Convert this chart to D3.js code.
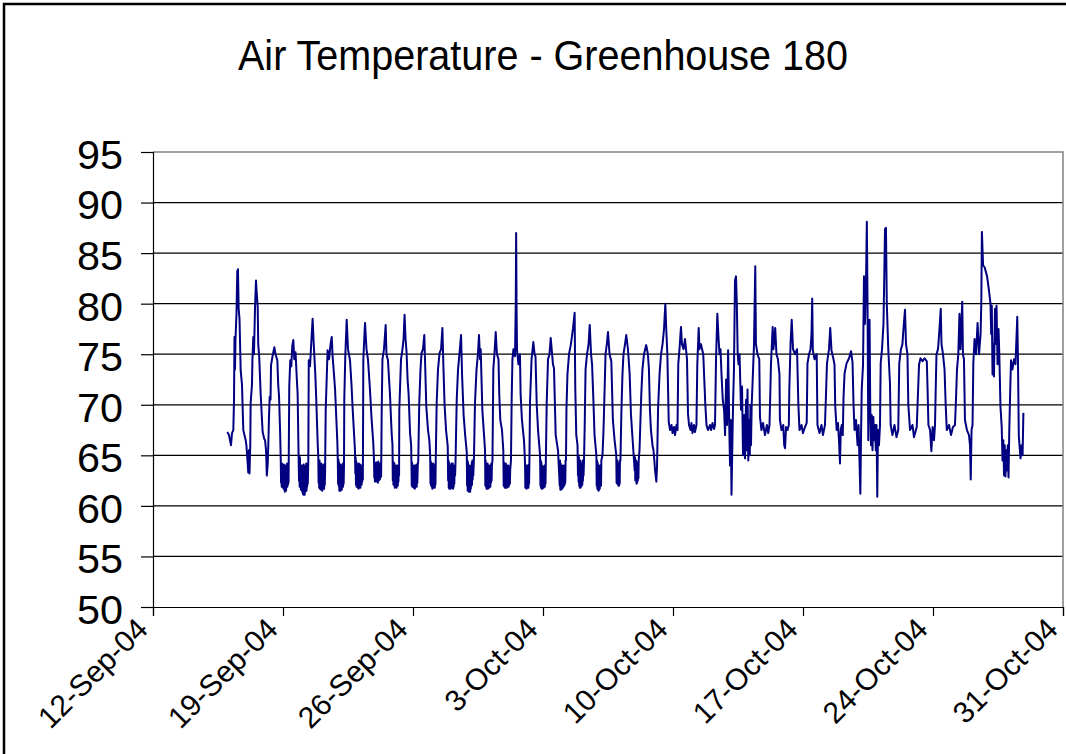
<!DOCTYPE html>
<html>
<head>
<meta charset="utf-8">
<script src="https://cdn.jsdelivr.net/npm/d3@7"></script>
<style>
  body { margin: 0; background: #fff; }
  text { font-family: "Liberation Sans", Arial, sans-serif; fill: #000; }
</style>
</head>
<body>
<script>
const title = "Air Temperature - Greenhouse 180";
const yTicks = [50, 55, 60, 65, 70, 75, 80, 85, 90, 95];
const xTicks = ["2004-09-12", "2004-09-19", "2004-09-26", "2004-10-03",
                "2004-10-10", "2004-10-17", "2004-10-24", "2004-10-31"];

// readings per day: [hour of day, deg F]
const sepDays = [
  ["2004-09-16", [[0,67.3],[2.2,67],[3.5,66.5],[4.8,66],[6.1,67.2],[7.8,67.5],[8.7,70.5],[9.3,76.7],[10,73.5],[10.6,76.5],[11.9,79],[12.9,83.2],[13.8,83.4],[14.7,79.5],[15.8,78.5],[17.3,73.4],[19,72],[20.7,67.5],[22.2,67],[23.8,66.5]]],
  ["2004-09-17", [[0.8,65.9],[2.1,64.5],[3.1,63.3],[4,65.5],[4.7,63.2],[5.7,66],[6.2,70.2],[7.9,72],[8.5,74.5],[9.6,76.7],[10.5,75],[11.8,79.5],[13.1,82.3],[13.7,81.5],[15.3,79.7],[16,76],[17.3,74.7],[19.1,71.1],[21.7,67.3],[23.9,66.6]]],
  ["2004-09-18", [[0.8,66.5],[2.1,65.5],[3.1,63],[4.3,64.2],[5,66],[5.9,68.8],[6.8,70.8],[7.9,70.5],[8.5,73.9],[10.5,74.8],[12.8,75.7],[14.3,75],[16.7,74.4],[17.8,72],[18.9,70.8],[20.2,67.5],[21.1,64.5],[21.5,62.3],[21.9,63.8],[22.3,61.9],[22.7,64.2],[23.1,62.1],[23.5,63.6]]],
  ["2004-09-19", [[0,61.8],[0.4,63.9],[0.8,61.7],[1.2,64.1],[1.6,61.6],[2,63.5],[2.4,61.4],[2.8,63.9],[3.2,61.8],[3.6,64],[4,61.5],[4.4,63.6],[4.8,62],[5.2,64.2],[5.6,61.9],[6,63.7],[6.4,62.1],[6.8,64],[7.2,62.3],[8.1,71.8],[9.4,74.4],[10.7,73.8],[12,75.8],[13.3,76.4],[14.6,74.5],[16.2,75.2],[17.7,72.8],[18.9,71.1],[20.3,64.2],[20.7,62.5],[21.1,64.5],[21.5,61.9],[21.9,64.8],[22.3,62],[22.7,63.9],[23.1,61.6],[23.5,64]]],
  ["2004-09-20", [[0,61.8],[0.4,63.5],[0.8,61.4],[1.2,64],[1.6,61.2],[2,63.6],[2.4,61.1],[2.8,64.1],[3.2,61.3],[3.6,63.2],[4,61.1],[4.4,63.9],[4.8,61.4],[5.2,63.5],[5.6,61.8],[6,64.2],[6.4,61.5],[6.8,63.6],[7.2,61.9],[7.6,64],[8,62.2],[8.4,63.5],[8.7,64.5],[9.3,74.4],[10.9,73.8],[12.8,76.5],[14.3,78.5],[15.4,76.5],[17.7,73.1],[19,70.5],[20.8,66.2],[21.6,64.9],[22,62.3],[22.4,64.2],[22.8,61.8],[23.2,64.5],[23.6,61.7]]],
  ["2004-09-21", [[0,63.9],[0.4,61.9],[0.8,63.8],[1.2,61.6],[1.6,64.2],[2,61.8],[2.4,63.6],[2.8,61.5],[3.2,64],[3.6,62],[4,63.5],[4.4,61.7],[4.8,64.1],[5.2,61.7],[5.6,63.8],[6,62.1],[6.4,63.5],[7.2,69.5],[9.6,75.4],[11.5,74.5],[13.5,76],[15,76.7],[16.1,74.8],[17.4,73.5],[19.3,71.5],[22.3,66.2],[22.8,64.5],[23.2,62.2],[23.6,64.6]]],
  ["2004-09-22", [[0,62],[0.4,64.3],[0.8,61.5],[1.2,63.9],[1.6,61.6],[2,64.1],[2.4,61.5],[2.8,63.8],[3.2,61.8],[3.6,64],[4,61.6],[4.4,63.7],[4.8,62],[5.2,64.2],[5.6,61.9],[6,63.5],[6.4,62.2],[6.8,63.8],[7.2,70.5],[8.5,74.8],[10.3,78.4],[12,75.5],[14.6,74.4],[16.5,72],[18.1,69.5],[21,65.5],[21.5,63.2],[21.9,64.8],[22.3,62.1],[22.7,64.4],[23.1,61.9],[23.5,64.2]]],
  ["2004-09-23", [[0,62.2],[0.4,64],[0.8,61.8],[1.2,63.8],[1.6,61.7],[2,64.2],[2.4,61.9],[2.8,63.6],[3.2,62],[3.6,64.1],[4,61.8],[4.4,63.9],[4.8,62.3],[5.2,64],[5.6,62.1],[6,63.7],[6.4,62.4],[6.8,63.8],[7.2,62.6],[7.8,74.5],[10,78.1],[11.9,75.5],[13.8,74.5],[16.4,71.5],[18.3,68.8],[20.7,66.2],[21.6,64.5],[22,62.8],[22.4,64.3],[22.8,62.4],[23.2,64.1],[23.6,62.6]]],
  ["2004-09-24", [[0,64.2],[0.4,62.5],[0.8,64.3],[1.2,62.4],[1.6,64],[2,62.6],[2.4,64.2],[2.8,62.3],[3.2,64.4],[3.6,62.5],[4,64.1],[4.4,62.7],[4.8,63.9],[5.2,62.6],[5.6,64.2],[6,62.8],[6.4,64],[6.8,62.9],[7.5,69],[8.5,74.5],[10.5,75.5],[12.7,77.9],[13.7,75],[15.6,74.4],[18.2,71.1],[20.4,67.2],[21.5,66],[21.9,62.5],[22.3,64.4],[22.7,62.1],[23.1,64.3],[23.5,62.2]]],
  ["2004-09-25", [[0,64.2],[0.4,61.8],[0.8,63.9],[1.2,61.9],[1.6,63.5],[2,62.2],[2.4,64],[2.8,61.8],[3.2,63.7],[3.6,62.2],[4,64],[4.4,62],[4.8,63.6],[5.2,62.4],[5.6,63.8],[6,63],[6.3,69.5],[8.5,74.5],[10.4,75.5],[11.8,76.5],[13.1,78.9],[14.4,76.5],[15.7,75.2],[17,72.5],[18.3,71.1],[20.2,67.2],[21.6,66],[22,64.2],[22.4,62],[22.8,64.3],[23.2,61.9],[23.6,63.9]]],
  ["2004-09-26", [[0,61.9],[0.4,64],[0.8,61.8],[1.2,63.5],[1.6,62],[2,64],[2.4,61.7],[2.8,63.8],[3.2,61.9],[3.6,63.6],[4,62.1],[4.4,64.1],[4.8,61.9],[5.2,63.5],[5.6,62.3],[6.2,64],[6.8,64.5],[8.1,70.2],[9.7,73.5],[11,75.1],[12.9,75.5],[14.6,76.9],[15.5,74.5],[17.2,69.8],[19.4,67.5],[21.1,66.5],[22.2,65],[22.6,62.2],[23,64.4],[23.4,62],[23.8,64.2]]],
  ["2004-09-27", [[0.2,61.9],[0.6,64],[1,61.7],[1.4,63.8],[1.8,62],[2.2,64.2],[2.6,61.8],[3,63.8],[3.4,61.9],[3.8,64],[4.2,61.8],[4.6,63.7],[5,62.1],[5.4,64.5],[6.6,70.2],[8.3,73.5],[10.3,75.1],[12.3,75.5],[14,77.6],[15.3,73.8],[16.8,70],[18.7,67.5],[20.9,65.9],[21.4,62.5],[21.8,64.5],[22.2,61.8],[22.6,64.3],[23,61.7],[23.4,64],[23.8,61.9]]],
  ["2004-09-28", [[0.2,64],[0.6,61.7],[1,63.8],[1.4,61.8],[1.8,64.2],[2.2,62],[2.6,63.9],[3,61.8],[3.4,64.2],[3.8,61.7],[4.2,63.6],[4.6,61.9],[5,63.5],[5.4,62.2],[5.8,64],[6.4,63],[7,64.5],[8.5,70.5],[10.2,73.5],[12.1,75.1],[14.1,76.9],[15.4,73],[17.4,69],[19.4,67],[21.5,65.3],[21.9,62],[22.3,64.5],[22.7,61.5],[23.1,64.3],[23.5,61.6],[23.9,63.9]]],
  ["2004-09-29", [[0.3,61.4],[0.7,64],[1.1,61.5],[1.5,63.8],[1.9,61.4],[2.3,63.9],[2.7,61.7],[3.1,64],[3.5,62],[3.9,64.3],[4.3,62.1],[4.7,64.5],[5.1,62.6],[5.5,64.2],[5.9,63],[6.8,64.8],[8.1,70.2],[10.1,73.5],[12,75.1],[13.3,76.9],[14.6,74.5],[15.5,75.5],[17.6,69.5],[19.8,67],[21.1,65.5],[21.5,62],[21.9,64.5],[22.3,61.9],[22.7,64.2],[23.1,61.7],[23.5,64]]],
  ["2004-09-30", [[0,61.8],[0.4,64.2],[0.8,61.7],[1.2,63.8],[1.6,61.9],[2,64],[2.4,61.8],[2.8,63.8],[3.2,62],[3.6,64],[4,61.9],[4.4,63.9],[4.8,62.3],[5.2,64.2],[5.6,62.5],[6,64],[6.7,64.5],[7.8,73.5],[9.3,75.1],[10.9,77.2],[12.5,75],[14.5,74.5],[15.5,71],[16.8,68.5],[19,67.5],[20.7,65.5],[21.2,62],[21.6,64.3],[22,61.9],[22.4,64],[22.8,61.8],[23.2,64.1],[23.6,61.8]]]
];

const octDays = [
  ["2004-10-01", [[0,64.2],[0.4,61.9],[0.8,63.8],[1.2,61.8],[1.6,64],[2,62],[2.4,63.8],[2.8,61.9],[3.2,64],[3.6,61.9],[4,63.6],[4.4,62.1],[4.8,63.8],[5.2,62.2],[5.6,63.5],[6.6,64.5],[7.5,70.5],[8.5,74.5],[9.8,75.5],[11.8,74.8],[12.8,80],[13.3,87],[13.8,80],[14.4,75.4],[16.3,74],[18.2,75],[19.1,71],[20.8,68.5],[23.4,66.5]]],
  ["2004-10-02", [[0.4,65],[0.8,64],[1.2,61.8],[1.6,63.8],[2,61.9],[2.4,64],[2.8,61.7],[3.2,63.8],[3.6,62],[4,64],[4.4,61.8],[4.8,63.9],[5.2,61.8],[5.6,64.1],[6,62.2],[6.4,64],[7.2,70.2],[9.2,74.5],[11.5,76.2],[13.1,75],[14.3,74.8],[15.9,70],[17.6,67.5],[20.2,65],[20.7,62],[21.1,64.5],[21.5,61.8],[21.9,64.3],[22.3,61.7],[22.7,64],[23.1,61.7],[23.5,63.9]]],
  ["2004-10-03", [[0,61.8],[0.4,63.8],[0.8,61.8],[1.2,63.8],[1.6,62.2],[2,64],[2.4,61.9],[2.8,63.6],[3.2,62.2],[3.6,64],[4.8,70.2],[6.5,74.5],[8.4,75],[10,76.6],[11.2,75.5],[12.9,74],[14.2,73.6],[16.4,67],[19.4,65.5],[21.6,62],[22,64.5],[22.4,61.6],[22.8,64.2],[23.2,61.6],[23.6,63.9]]],
  ["2004-10-04", [[0,61.7],[0.4,64],[0.8,61.7],[1.2,63.8],[1.6,61.8],[2,63.5],[2.4,61.9],[2.8,64],[3.2,62],[3.6,63.5],[4,62.1],[4.4,64],[4.8,62.3],[5.2,64.5],[5.7,64.5],[6.3,69.5],[7.6,73],[9.6,75],[12.1,76],[14.7,77.5],[16.9,79.1],[17.7,71.7],[19,67],[20.6,66],[21.2,63],[21.6,65],[22,62.4],[22.4,64.8],[22.8,62],[23.2,64.5],[23.6,61.8]]],
  ["2004-10-05", [[0,64.5],[0.4,61.8],[0.8,64],[1.2,61.9],[1.6,64.2],[2,62],[2.4,63.8],[2.8,62.1],[3.2,64.5],[3.6,62.5],[4,64],[4.4,63],[5,64.5],[5.9,68],[7,73.5],[8.9,75],[10.9,76],[12.4,77.9],[14.1,75],[15.4,74],[17.1,70.5],[18.6,67],[21,65],[21.4,62],[21.8,64.5],[22.2,61.7],[22.6,64.3],[23,61.6],[23.4,64],[23.8,61.5]]],
  ["2004-10-06", [[0.2,64],[0.6,61.6],[1,63.8],[1.4,61.7],[1.8,64],[2.2,62],[2.6,63.8],[3,62],[3.4,64.5],[4.9,65],[6.2,67.5],[7.8,72],[8.8,75],[10.5,76],[12,77.2],[14,75],[16.3,74.3],[18.3,68.5],[20.5,66.5],[22.7,65],[23.1,62.3],[23.5,64.5],[23.9,62.2]]],
  ["2004-10-07", [[0.3,64.5],[0.7,62.2],[1.1,64],[1.5,62],[1.9,64.2],[2.3,62],[2.7,64],[3.1,62.2],[3.5,64.5],[4.1,64.5],[5.2,69],[6.7,73],[8,75],[10,76],[11.6,76.9],[13.8,75.5],[16,73],[17.7,69],[20.3,66],[22.5,63.5],[22.9,64.8],[23.3,62.5],[23.7,64.5]]],
  ["2004-10-08", [[0.1,62.5],[0.5,64.5],[0.9,62.2],[1.3,64.3],[1.7,62.3],[2.1,64],[2.5,62.5],[2.9,64.2],[3.3,62.7],[3.7,64.5],[4.7,65.5],[7,71],[8.5,73.5],[10.5,75],[12,75.5],[13.4,75.9],[15.6,75],[16.9,73.5],[18.2,69.5],[19.5,67.5],[21.5,66],[22.8,65.5],[23.9,64.5]]],
  ["2004-10-09", [[0.8,63.5],[2.5,62.4],[3.4,64],[4.7,69.6],[6.6,73],[8.5,75],[10.5,76],[12.4,77.5],[14.1,80],[15,78],[16.7,75],[18.5,68.3],[20.2,67.5],[22.1,68],[23.4,67.2]]],
  ["2004-10-10", [[1.3,67.8],[2.6,67],[4.5,68],[5.8,67.5],[6.8,74],[8.4,75.5],[10.3,77.7],[11.6,76],[13.6,75.5],[15.5,76.5],[18.1,74.5],[19.4,69.1],[20.7,68],[22.6,67.5],[23.9,68.2]]],
  ["2004-10-11", [[1.2,67.2],[3.1,68],[4.4,67.3],[6.3,68],[7.4,74],[9.2,77.6],[10.2,75.5],[12.1,76],[15.1,75],[16.7,72],[17.7,70.1],[19.3,68],[21.2,67.5],[23.8,68]]],
  ["2004-10-12", [[1.2,67.5],[3.1,68.2],[5,67.6],[6.3,68],[7.6,74.5],[9.3,79],[10.9,76.5],[12.1,75],[13.4,75.5],[14.7,73],[16.3,70.5],[18,69.5],[19.3,67],[20.6,72.5],[21.9,68],[23.2,75.4]]],
  ["2004-10-13", [[0.8,67.5],[1.7,64],[2.6,68.5],[3.6,61.1],[4.7,66],[5.6,70],[6.8,73.5],[8.1,82.3],[9.4,82.7],[10.5,80],[11.6,75],[12.7,74],[14,75],[15.9,69.5],[17.2,71.8],[18.5,65],[19.8,69],[21.1,64.7],[22.4,70.5],[23.3,65.5]]],
  ["2004-10-14", [[0.3,71.5],[1.3,64.5],[2.2,68.5],[3.2,65],[4.1,70],[4.8,66],[5.7,70],[7,72.5],[8.7,76],[10.3,83.7],[11.2,76],[13.2,75],[15.5,74.5],[16.4,68.8],[18.3,67.5],[20.3,68.2],[22.9,67]]],
  ["2004-10-15", [[1.4,68],[3.1,67.2],[4.7,68],[5.7,71],[6.6,74],[8.8,77.7],[9.8,75.5],[12.1,77.6],[13.7,75],[15.6,74.5],[17.6,73],[18.2,68.5],[20.2,67.5],[22.5,68],[23.7,66]]],
  ["2004-10-16", [[0.8,65.7],[2.1,67.8],[4,67.5],[5.7,68],[6.3,71.5],[7.9,76],[9.4,78.4],[11.1,75.5],[13.7,75],[16.3,75.5],[18,70],[19.5,67.5],[22.1,68],[23.9,67.2]]],
  ["2004-10-17", [[2.6,67.8],[4.8,68.2],[5.8,74.1],[7.8,75],[9.7,75.5],[11,77],[11.9,80.5],[12.7,75.4],[14.9,74.5],[17.7,75],[18.7,68],[21.3,67.2],[23.9,68]]],
  ["2004-10-18", [[1.8,67],[4.4,68],[5.7,71],[7,74.1],[9.6,75.5],[11.2,77.6],[12.8,75.4],[15.4,74.5],[16.7,74],[17.7,69.8],[19.5,67.5],[21.2,68.2],[22.5,66.5],[23.8,64.2]]],
  ["2004-10-19", [[0.8,67.5],[2.1,68],[3.4,67],[4.4,70.8],[5.7,73.1],[8.3,74.1],[11.5,74.6],[14.1,75.3],[16,74.2],[17.3,70],[18.6,67.5],[20.5,68.5],[22.5,66],[23.8,68]]],
  ["2004-10-20", [[1,64.5],[2.1,61.2],[3,67],[3.9,71.5],[5.6,74],[6.8,82.7],[8.1,78],[9.4,82],[10.5,88.1],[11.4,80],[12.4,66.5],[13.3,74],[14,78.4],[14.9,70],[15.9,66],[16.8,69],[17.8,65.5],[18.9,68.8],[19.8,66.5],[21.1,68],[22.1,65.5],[23,68]]],
  ["2004-10-21", [[0,60.9],[0.9,67.5],[2.2,66],[3.5,68],[4.4,74.1],[6.1,75.5],[8,78],[9.3,84],[10,87.4],[11.2,87.5],[12.3,80],[14.2,75.5],[16.4,72.1],[17.3,68],[19.6,67],[22.2,68]]],
  ["2004-10-22", [[0.8,66.8],[3.1,67.5],[4.4,74.1],[6.6,75.5],[8.5,76],[9.8,77.5],[11.8,79.4],[13.1,76],[15,75],[16.1,70],[18.3,67.5],[21.5,68],[23.4,66.8]]],
  ["2004-10-23", [[3,67.8],[5,72],[6,74],[7.9,74.6],[10.5,74.3],[13.1,74.6],[16,74.3],[17,71.5],[18.1,68],[20.2,67.5],[21.9,65.4],[23.5,67.8]]],
  ["2004-10-24", [[1.3,66.5],[2.6,68],[3.5,71.5],[4.5,75],[6.5,75.5],[8.4,77.5],[10,79.5],[11,76],[12.9,75],[14.9,73.5],[16.4,70],[17.8,67.5],[20.7,68],[23.3,67]]],
  ["2004-10-25", [[1.8,67.8],[4.4,68],[5.7,70.5],[7,73.5],[8.7,75],[10.2,79],[11.5,75.5],[13.8,80.2],[14.7,75],[16,74.5],[17.3,68.5],[19.9,67.5],[22.5,67],[23.8,66]]],
  ["2004-10-26", [[0.8,62.6],[1.8,67.5],[3.1,68],[4.1,74.1],[5.7,76.5],[7.6,75],[9.6,78.1],[11.5,75],[13.5,77],[14.4,80],[15.2,87.1],[16.7,83.8],[18.7,83.6],[21.9,82.7]]],
  ["2004-10-27", [[0,81.5],[2.3,80],[3.2,77],[4,79.8],[4.9,73],[5.9,76],[6.8,72.8],[8.1,79.5],[9.2,76],[10.1,79.8],[11.4,74],[12.7,77.5],[13.7,75],[15.2,69.8],[16.8,67.8],[17.8,64.5],[18.9,66.5],[19.8,63],[20.7,66],[21.7,62.9],[22.6,65.5],[23.6,63.5]]],
  ["2004-10-28", [[0.6,66],[1.6,62.8],[2.6,67.5],[3.5,70.5],[4.8,74.4],[6.7,73.5],[8.7,74.5],[10.6,74],[12.9,78.7],[13.8,74.5],[14.9,66.9],[17.1,64.7],[18.4,66],[19.8,65],[20.8,69.2]]]
];

const W = 1066, H = 754;
const margin = { left: 153, right: 1063, top: 152, bottom: 607 };

const svg = d3.select("body").append("svg").attr("width", W).attr("height", H);

// outer chart frame, runs off the right and bottom of the picture
svg.append("rect").attr("x", 4).attr("y", 4).attr("width", W + 10).attr("height", H + 10)
  .attr("fill", "#fff").attr("stroke", "#000").attr("stroke-width", 2.5);

const parse = d3.utcParse("%Y-%m-%d");
const x = d3.scaleUtc()
  .domain([parse(xTicks[0]), parse(xTicks[xTicks.length - 1])])
  .range([margin.left, margin.right]);
const y = d3.scaleLinear().domain([50, 95]).range([margin.bottom, margin.top]);

// flatten the day blocks into timestamped points
const points = [];
sepDays.concat(octDays).forEach(([day, pts]) => {
  const t0 = parse(day).getTime();
  pts.forEach(([h, v]) => points.push({ t: new Date(t0 + h * 3600e3), v: v }));
});

// gridlines
svg.append("g").selectAll("line").data(yTicks.slice(1, -1)).join("line")
  .attr("x1", margin.left).attr("x2", margin.right)
  .attr("y1", d => y(d)).attr("y2", d => y(d))
  .attr("stroke", "#000").attr("stroke-width", 1.2);

// plot box top and right edges are grey in the original
svg.append("path")
  .attr("d", `M${margin.left},${margin.top}H${margin.right}V${margin.bottom}`)
  .attr("fill", "none").attr("stroke", "#808080").attr("stroke-width", 1.5);

// y axis
const yAxis = svg.append("g").attr("transform", `translate(${margin.left},0)`)
  .call(d3.axisLeft(y).tickValues(yTicks).tickSize(12).tickPadding(18).tickFormat(d3.format("d")));
yAxis.select(".domain").attr("stroke", "#000").attr("stroke-width", 1.2);
yAxis.selectAll(".tick line").attr("stroke", "#000").attr("stroke-width", 1.2);
yAxis.selectAll("text").attr("font-size", 41).attr("dy", "0.4em")
  .attr("font-family", "'Liberation Sans', Arial, sans-serif").attr("fill", "#000")
  .attr("textLength", 46).attr("lengthAdjust", "spacingAndGlyphs");

// x axis
const xAxis = svg.append("g").attr("transform", `translate(0,${margin.bottom})`)
  .call(d3.axisBottom(x).tickValues(xTicks.map(parse)).tickSize(9).tickFormat(d3.utcFormat("%-d-%b-%y")));
xAxis.select(".domain").attr("stroke", "#000").attr("stroke-width", 1.2);
xAxis.selectAll(".tick line").attr("stroke", "#000").attr("stroke-width", 1.2);
xAxis.selectAll("text")
  .attr("font-size", 30).attr("font-family", "'Liberation Sans', Arial, sans-serif").attr("fill", "#000")
  .attr("text-anchor", "end").attr("dy", 0).attr("y", 0)
  .attr("transform", "translate(-4,24) rotate(-45)");

// series
svg.append("path").datum(points)
  .attr("fill", "none").attr("stroke", "#000080").attr("stroke-width", 2)
  .attr("stroke-linejoin", "round")
  .attr("d", d3.line().x(d => x(d.t)).y(d => y(d.v)));

// title
svg.append("text").attr("x", 543).attr("y", 70).attr("text-anchor", "middle")
  .attr("font-size", 42).attr("textLength", 610).attr("lengthAdjust", "spacingAndGlyphs")
  .text(title);
</script>
</body>
</html>
